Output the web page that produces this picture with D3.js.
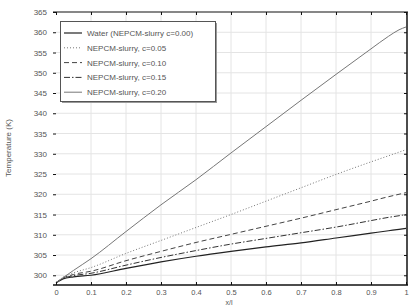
<!DOCTYPE html>
<html><head><meta charset="utf-8">
<script src="https://cdn.jsdelivr.net/npm/d3@7"></script>
<style>body{margin:0;background:#fff}svg{display:block}text{font-family:"Liberation Sans",Arial,sans-serif}</style>
</head><body><svg id="c" width="417" height="306"></svg>
<script>
const xs = [0, 0.02, 0.05, 0.1, 0.2, 0.3, 0.4, 0.5, 0.6, 0.7, 0.8, 0.9, 0.95, 0.98, 1.0];
const water = [298.15, 299.1, 299.6, 300.0, 301.7, 303.3, 304.7, 305.9, 307.0, 308.0, 309.2, 310.4, 311.0, 311.35, 311.6];
const c005  = [298.15, 299.5, 300.6, 301.9, 305.4, 308.6, 311.8, 315.0, 318.3, 321.6, 324.9, 328.0, 329.5, 330.4, 331.0];
const c010  = [298.15, 299.3, 300.2, 301.0, 303.6, 305.9, 308.1, 310.1, 312.1, 314.1, 316.2, 318.3, 319.4, 320.0, 320.4];
const c015  = [298.15, 299.2, 299.9, 300.5, 302.5, 304.4, 306.1, 307.7, 309.1, 310.5, 311.9, 313.5, 314.3, 314.7, 315.0];
const c020  = [298.15, 299.4, 301.2, 304.1, 310.8, 317.4, 323.6, 330.2, 336.7, 343.2, 349.6, 355.9, 359.0, 360.6, 361.3];
const seriesNames = ["Water  (NEPCM-slurry c=0.00)", "NEPCM-slurry, c=0.05", "NEPCM-slurry, c=0.10", "NEPCM-slurry, c=0.15", "NEPCM-slurry, c=0.20"];
const xTicks = [0, 0.1, 0.2, 0.3, 0.4, 0.5, 0.6, 0.7, 0.8, 0.9, 1];
const xTickLabels = ["0", "0.1", "0.2", "0.3", "0.4", "0.5", "0.6", "0.7", "0.8", "0.9", "1"];
const yTicks = [300, 305, 310, 315, 320, 325, 330, 335, 340, 345, 350, 355, 360, 365];

const series = [water, c005, c010, c015, c020];
const styles = [
  {stroke:"#222", width:1.2, dash:null},
  {stroke:"#777", width:1, dash:"1,2"},
  {stroke:"#444", width:1, dash:"5,3"},
  {stroke:"#333", width:1, dash:"6,2,1.5,2"},
  {stroke:"#777", width:1, dash:null}
];

const svg = d3.select("#c");
const L = 56, R = 407, T = 12, B = 285;
const x = d3.scaleLinear().domain([0, 1]).range([L, 406]);
const y = d3.scaleLinear().domain([297.6, 365]).range([B, T]);

// grid
const g = svg.append("g");
g.selectAll(".vg").data(xTicks.slice(1, -1)).join("line")
  .attr("x1", d => x(d)).attr("x2", d => x(d)).attr("y1", T).attr("y2", B)
  .attr("stroke", "#e4e4e4").attr("stroke-width", 1);
g.selectAll(".hg").data(yTicks.slice(0, -1)).join("line")
  .attr("x1", L).attr("x2", R).attr("y1", d => y(d)).attr("y2", d => y(d))
  .attr("stroke", "#e4e4e4").attr("stroke-width", 1);

// lines
const line = d3.line().x((d, i) => x(xs[i])).y(d => y(d)).curve(d3.curveMonotoneX);
series.forEach((s, k) => {
  svg.append("path").attr("d", line(s)).attr("fill", "none")
    .attr("stroke", styles[k].stroke).attr("stroke-width", styles[k].width)
    .attr("stroke-dasharray", styles[k].dash);
});

// frame
svg.append("line").attr("x1", L - 3).attr("x2", R + 1).attr("y1", T).attr("y2", T).attr("stroke", "#111").attr("stroke-width", 1.2);
svg.append("line").attr("x1", L - 3).attr("x2", R + 1).attr("y1", B).attr("y2", B).attr("stroke", "#111").attr("stroke-width", 1.5);
svg.append("line").attr("x1", R).attr("x2", R).attr("y1", T).attr("y2", B).attr("stroke", "#111").attr("stroke-width", 1.5);

// x axis
const xa = d3.axisBottom(x).tickValues(xTicks).tickFormat((d, i) => xTickLabels[i]).tickSize(-3).tickPadding(5);
const xg = svg.append("g").attr("transform", `translate(0,${B})`).call(xa);
xg.select(".domain").remove();
xg.selectAll("line").attr("stroke", "#111");
xg.selectAll("text").attr("font-size", 7.5).attr("fill", "#555").attr("font-family", "Liberation Sans, Arial, sans-serif");
const xt = d3.axisTop(x).tickValues(xTicks).tickFormat("").tickSize(-3);
const xtg = svg.append("g").attr("transform", `translate(0,${T})`).call(xt);
xtg.select(".domain").remove();
xtg.selectAll("line").attr("stroke", "#111");

// y axis
const ya = d3.axisLeft(y).tickValues(yTicks).tickSize(3).tickPadding(6);
const yg = svg.append("g").attr("transform", `translate(${L},0)`).call(ya);
yg.select(".domain").remove();
yg.selectAll("line").attr("stroke", "#111");
yg.selectAll("text").attr("font-size", 8).attr("fill", "#555").attr("font-family", "Liberation Sans, Arial, sans-serif");
const yr = d3.axisRight(y).tickValues(yTicks).tickFormat("").tickSize(-3);
const yrg = svg.append("g").attr("transform", `translate(${R},0)`).call(yr);
yrg.select(".domain").remove();
yrg.selectAll("line").attr("stroke", "#111");

// labels
svg.append("text").attr("x", 229).attr("y", 305).attr("text-anchor", "middle")
  .attr("font-size", 7).attr("fill", "#555").text("x/l");
svg.append("text").attr("transform", "translate(11,148) rotate(-90)").attr("text-anchor", "middle")
  .attr("font-size", 8).attr("fill", "#555").text("Temperature (K)");

// legend
const lg = svg.append("g");
lg.append("rect").attr("x", 62).attr("y", 23).attr("width", 155).attr("height", 80).attr("fill", "#999");
lg.append("rect").attr("x", 60.5).attr("y", 21.5).attr("width", 155).attr("height", 80)
  .attr("fill", "#fff").attr("stroke", "#555").attr("stroke-width", 1);
seriesNames.forEach((n, k) => {
  const yy = 33 + k * 14.8;
  lg.append("line").attr("x1", 64).attr("x2", 82).attr("y1", yy).attr("y2", yy)
    .attr("stroke", styles[k].stroke).attr("stroke-width", styles[k].width)
    .attr("stroke-dasharray", styles[k].dash);
  lg.append("text").attr("x", 87).attr("y", yy + 3).attr("font-size", 8).attr("fill", "#555").text(n);
});
</script></body></html>
